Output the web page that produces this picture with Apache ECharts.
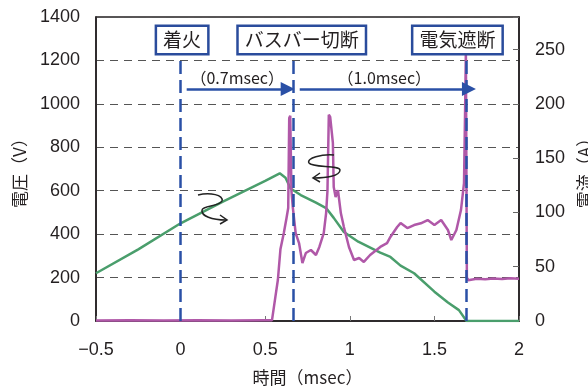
<!DOCTYPE html>
<html><head><meta charset="utf-8">
<script src="https://cdn.jsdelivr.net/npm/echarts@6/dist/echarts.min.js"></script>
<style>html,body{margin:0;padding:0;background:#fff}#c{width:588px;height:387px}</style>
</head><body><div id="c"></div>
<script>
// ---- data ----
const xTicks = [-0.5, 0, 0.5, 1, 1.5, 2];
const voltTime = [-0.5,-0.3,-0.1,0.1,0.3,0.5,0.54,0.56,0.575,0.59,0.61,0.625,0.636,0.642,0.648,0.655,0.663,0.68,0.7,0.72,0.74,0.77,0.8,0.82,0.846,0.86,0.868,0.876,0.884,0.9,0.905,0.916,0.93,0.947,0.965,0.995,1.025,1.055,1.083,1.12,1.18,1.22,1.24,1.28,1.3,1.34,1.38,1.42,1.46,1.5,1.54,1.58,1.6,1.63,1.657,1.675,1.682,1.686,1.692,1.70,1.75,1.8,1.85,1.9,1.95,2.0];
const voltage  = [2,4,2,4,2,4,3,110,190,330,405,470,520,935,945,600,525,405,359,267,313,327,304,341,405,497,600,950,940,820,617,571,603,497,433,341,281,290,272,304,341,359,387,433,451,428,442,450,465,442,465,419,373,419,511,635,1000,1245,200,188,195,192,196,193,197,195];
const currTime = [-0.5,-0.25,0,0.25,0.5,0.586,0.62,0.65,0.71,0.8,0.86,0.905,0.965,1.05,1.18,1.24,1.3,1.38,1.5,1.58,1.645,1.69,1.8,2.0];
const current  = [44,66,90,110,129,136,132,122,116,109,104,95,82,73,63,59,51,44,27,17,10,0,0,0];
const eventTimes = [0, 0.665, 1.69];
const eventNames = ['着火', 'バスバー切断', '電気遮断'];
const labelTimes = [0.009, 0.716, 1.636];
const spanLabels = ['（0.7msec）', '（1.0msec）'];
const spanStart = [0.036, 0.704];
const spanEnd = [0.633, 1.704];

const vPairs = voltTime.map((t,i)=>[t, voltage[i]]);
const iPairs = currTime.map((t,i)=>[t, current[i]]);

const NUM = '"Liberation Sans", Arial, sans-serif';
const JP = '"Noto Sans CJK JP", sans-serif';
const TXT = '#231f20';
function bz(p){return {type:'bezierCurve',z:100,silent:true,
  shape:{x1:p[0],y1:p[1],cpx1:p[2],cpy1:p[3],cpx2:p[4],cpy2:p[5],x2:p[6],y2:p[7]},
  style:{stroke:'#222',lineWidth:1.5,fill:'none'}};}
const chart = echarts.init(document.getElementById('c'));
chart.setOption({
  animation:false,
  grid:{left:96,right:69,top:17,bottom:66,show:true,borderColor:TXT,borderWidth:1.5,
        containLabel:false,outerBoundsMode:'none'},
  xAxis:{type:'value',min:-0.5,max:2,interval:0.5,
    name:'時間（msec）',nameLocation:'middle',nameGap:48,
    nameTextStyle:{fontFamily:JP,fontSize:17,color:TXT},
    axisLine:{onZero:false,lineStyle:{color:TXT,width:1.5}},
    axisTick:{inside:true,length:5,lineStyle:{color:'#777'}},
    axisLabel:{margin:20,fontFamily:NUM,fontSize:18,color:TXT,
      formatter:v=>v<0?'−'+Math.abs(v):String(v)},
    splitLine:{show:false}},
  yAxis:[
    {type:'value',min:0,max:1400,interval:200,
     name:'電圧（V）',nameLocation:'middle',nameGap:68,nameRotate:90,
     nameTextStyle:{fontFamily:JP,fontSize:17,color:TXT},
     axisLine:{show:true,onZero:false,lineStyle:{color:TXT,width:1.5}},
     axisTick:{show:false},
     axisLabel:{margin:16,fontFamily:NUM,fontSize:18,color:TXT,formatter:v=>String(v)},
     splitLine:{show:true,lineStyle:{color:'#555',width:1,type:[8,6]}}},
    {type:'value',min:0,max:280,interval:50,position:'right',
     name:'電流（A）',nameLocation:'middle',nameGap:51,nameRotate:90,
     nameTextStyle:{fontFamily:JP,fontSize:17,color:TXT},
     axisLine:{show:true,onZero:false,lineStyle:{color:TXT,width:1.5}},
     axisTick:{show:true,inside:true,length:6,lineStyle:{color:'#666'}},
     axisLabel:{margin:16,fontFamily:NUM,fontSize:18,color:TXT,
       formatter:v=>v>250?'':String(v)},
     splitLine:{show:false}}
  ],
  series:[
    {type:'line',name:'電流',yAxisIndex:1,data:iPairs,showSymbol:false,
     lineStyle:{color:'#4a9e6c',width:2.5},z:2},
    {type:'line',name:'電圧',yAxisIndex:0,data:vPairs,showSymbol:false,
     lineStyle:{color:'#b058a8',width:2.5},z:3},
    {type:'line',yAxisIndex:0,data:[],z:5,
     markLine:{silent:true,symbol:['none','none'],animation:false,
       lineStyle:{color:'#2a50a6',width:2.5,type:[13,6]},label:{show:false},
       data:eventTimes.map(t=>[{coord:[t,0]},{coord:[t,1220]}])}},
    {type:'line',yAxisIndex:0,data:[],z:6,
     markLine:{silent:true,symbol:['none','triangle'],symbolSize:14,animation:false,
       lineStyle:{color:'#2a50a6',width:2.5,type:'solid'},
       label:{show:true,position:'middle',formatter:'{b}',fontFamily:JP,fontSize:16,color:TXT,distance:3},
       data:spanLabels.map((s,i)=>[{name:s,coord:[spanStart[i],1068]},{coord:[spanEnd[i],1068]}])},
     markPoint:{silent:true,symbol:'rect',symbolSize:1,itemStyle:{color:'rgba(0,0,0,0)'},
       label:{show:true,position:'inside',formatter:'{b}',fontFamily:JP,fontSize:19,color:TXT,
         backgroundColor:'#fff',borderColor:'#2a4c9c',borderWidth:2.5,padding:[4,6,3,6]},
       data:eventNames.map((n,i)=>({name:n,coord:[labelTimes[i],1294]}))}}
  ],
  graphic:[
    bz([198,195,210,192,224,195,222,201]),
    bz([222,201,219,207,203,205,202,210]),
    bz([202,210,201,216,212,220,226,220]),
    {type:'polyline',z:100,silent:true,shape:{points:[[220,215],[227,220],[220,224]]},style:{stroke:'#222',lineWidth:1.5,fill:'none'}},
    bz([334,155,322,154,306,158,309,163]),
    bz([309,163,312,168,340,165,340,170]),
    bz([340,170,340,176,326,178,314,178]),
    {type:'polyline',z:100,silent:true,shape:{points:[[320,173],[313,178],[320,182]]},style:{stroke:'#222',lineWidth:1.5,fill:'none'}}
  ]
});
</script></body></html>
